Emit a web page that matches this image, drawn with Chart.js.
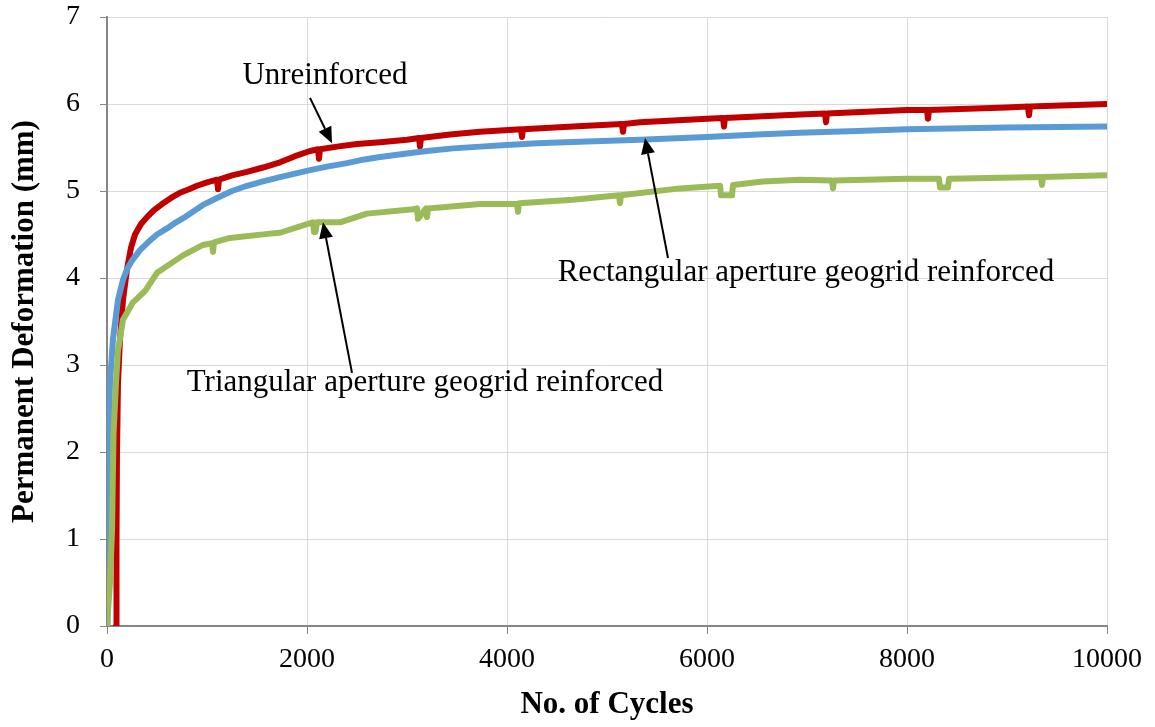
<!DOCTYPE html>
<html>
<head>
<meta charset="utf-8">
<script src="https://cdn.jsdelivr.net/npm/chart.js@4.4.1/dist/chart.umd.min.js"></script>
<style>
  html, body { margin: 0; padding: 0; background: #ffffff; }
  #wrap { width: 1155px; height: 727px; position: relative; }
</style>
</head>
<body>
<div id="wrap"><canvas id="c" width="1155" height="727"></canvas></div>
<script>
// ---- data ----
const xTicks = [0, 2000, 4000, 6000, 8000, 10000];
const yTicks = [0, 1, 2, 3, 4, 5, 6, 7];

const seriesNames = [
  "Unreinforced",
  "Rectangular aperture geogrid reinforced",
  "Triangular aperture geogrid reinforced"
];

const unreinforcedCycles = [90, 95, 100, 110, 130, 160, 200, 240, 280, 340, 400, 470, 550, 640, 730, 820, 900, 1000, 1100, 1110, 1120, 1250, 1400, 1560, 1730, 1880, 2030, 2110, 2120, 2130, 2300, 2500, 2730, 3000, 3120, 3130, 3140, 3430, 3730, 4140, 4150, 4160, 4660, 5150, 5160, 5170, 5330, 6000, 6160, 6170, 6180, 6930, 7180, 7190, 7200, 8000, 8200, 8210, 8220, 9000, 9210, 9220, 9230, 10000];
const unreinforcedDef = [0, 1.0, 2.0, 2.8, 3.3, 3.75, 4.1, 4.35, 4.5, 4.62, 4.7, 4.78, 4.85, 4.92, 4.98, 5.02, 5.06, 5.10, 5.13, 5.02, 5.13, 5.18, 5.22, 5.27, 5.33, 5.40, 5.46, 5.48, 5.37, 5.48, 5.51, 5.54, 5.56, 5.59, 5.61, 5.51, 5.61, 5.65, 5.68, 5.71, 5.62, 5.71, 5.74, 5.77, 5.68, 5.77, 5.79, 5.83, 5.84, 5.74, 5.84, 5.88, 5.89, 5.79, 5.89, 5.93, 5.93, 5.83, 5.93, 5.96, 5.97, 5.87, 5.97, 6.00];

const rectangularCycles = [0, 5, 12, 30, 60, 110, 160, 200, 250, 330, 410, 500, 600, 690, 780, 870, 960, 1100, 1250, 1400, 1560, 1730, 1880, 2030, 2200, 2400, 2560, 2730, 3000, 3200, 3460, 3730, 4000, 4300, 4800, 5330, 6000, 6500, 6930, 7500, 8000, 9000, 10000];
const rectangularDef = [0, 1.0, 2.0, 2.8, 3.3, 3.75, 3.98, 4.10, 4.2, 4.32, 4.41, 4.50, 4.57, 4.64, 4.70, 4.77, 4.84, 4.92, 5.00, 5.06, 5.11, 5.16, 5.20, 5.24, 5.28, 5.32, 5.36, 5.39, 5.43, 5.46, 5.49, 5.51, 5.53, 5.55, 5.57, 5.59, 5.62, 5.65, 5.67, 5.69, 5.71, 5.73, 5.74];

const triangularCycles = [0, 30, 50, 65, 90, 110, 160, 260, 380, 500, 760, 960, 1050, 1060, 1070, 1230, 1630, 1730, 2000, 2060, 2070, 2085, 2100, 2330, 2600, 3060, 3100, 3110, 3190, 3200, 3210, 3730, 4100, 4110, 4120, 4660, 5120, 5130, 5140, 5730, 6130, 6140, 6250, 6260, 6560, 6930, 7250, 7260, 7270, 8000, 8320, 8330, 8410, 8420, 9340, 9350, 9360, 10000];
const triangularDef = [0, 0.5, 1.1, 2.2, 2.8, 3.17, 3.52, 3.72, 3.85, 4.06, 4.26, 4.38, 4.40, 4.30, 4.41, 4.46, 4.51, 4.52, 4.62, 4.64, 4.53, 4.53, 4.64, 4.64, 4.74, 4.79, 4.80, 4.68, 4.80, 4.70, 4.80, 4.85, 4.85, 4.76, 4.86, 4.90, 4.95, 4.86, 4.95, 5.03, 5.06, 4.95, 4.95, 5.07, 5.11, 5.13, 5.12, 5.03, 5.12, 5.14, 5.14, 5.04, 5.04, 5.14, 5.16, 5.07, 5.16, 5.18];

// annotation texts with arrow anchors in data units (cycles, mm)
const labelTexts = ["Unreinforced", "Rectangular aperture geogrid reinforced", "Triangular aperture geogrid reinforced"];
const labelAt = [[2180, 6.32], [6990, 4.06], [3180, 2.79]];
const arrowFrom = [[2030, 6.07], [5610, 4.23], [2450, 2.91]];
const arrowTo = [[2250, 5.55], [5380, 5.61], [2160, 4.64]];

// ---- build ----
function pts(xs, ys) { return xs.map((x, i) => ({ x: x, y: ys[i] })); }

const FONT = "'Liberation Serif', 'Times New Roman', serif";
const AXIS_GRAY = '#868686';

const annotationPlugin = {
  id: 'annotations',
  afterDatasetsDraw(chart) {
    const ctx = chart.ctx;
    const xs = chart.scales.x, ys = chart.scales.y;
    ctx.save();
    ctx.fillStyle = '#000';
    ctx.strokeStyle = '#000';
    ctx.font = '31px ' + FONT;
    ctx.textAlign = 'center';
    ctx.textBaseline = 'middle';
    for (let i = 0; i < labelTexts.length; i++) {
      ctx.fillText(labelTexts[i], xs.getPixelForValue(labelAt[i][0]), ys.getPixelForValue(labelAt[i][1]));
      const x1 = xs.getPixelForValue(arrowFrom[i][0]), y1 = ys.getPixelForValue(arrowFrom[i][1]);
      const x2 = xs.getPixelForValue(arrowTo[i][0]), y2 = ys.getPixelForValue(arrowTo[i][1]);
      const ang = Math.atan2(y2 - y1, x2 - x1);
      const headLen = 16, headW = 7;
      const bx = x2 - headLen * Math.cos(ang), by = y2 - headLen * Math.sin(ang);
      ctx.lineWidth = 2;
      ctx.beginPath();
      ctx.moveTo(x1, y1);
      ctx.lineTo(bx, by);
      ctx.stroke();
      ctx.beginPath();
      ctx.moveTo(x2, y2);
      ctx.lineTo(bx + headW * Math.sin(ang), by - headW * Math.cos(ang));
      ctx.lineTo(bx - headW * Math.sin(ang), by + headW * Math.cos(ang));
      ctx.closePath();
      ctx.fill();
    }
    ctx.restore();
  }
};

const lineStyle = {
  borderWidth: 6,
  pointRadius: 0,
  pointHoverRadius: 0,
  tension: 0,
  fill: false,
  borderJoinStyle: 'round',
  borderCapStyle: 'round'
};

new Chart(document.getElementById('c'), {
  type: 'line',
  data: {
    datasets: [
      Object.assign({ label: seriesNames[0], data: pts(unreinforcedCycles, unreinforcedDef), borderColor: '#C00000', order: 3 }, lineStyle),
      Object.assign({ label: seriesNames[1], data: pts(rectangularCycles, rectangularDef), borderColor: '#5B9BD5', order: 2 }, lineStyle),
      Object.assign({ label: seriesNames[2], data: pts(triangularCycles, triangularDef), borderColor: '#9BBB59', order: 1 }, lineStyle)
    ]
  },
  options: {
    responsive: false,
    animation: false,
    events: [],
    layout: { padding: { left: 0, right: 48, top: 17, bottom: 0 } },
    plugins: {
      legend: { display: false },
      tooltip: { enabled: false }
    },
    scales: {
      x: {
        type: 'linear',
        min: 0, max: 10000,
        afterBuildTicks(scale) { scale.ticks = xTicks.map(v => ({ value: v })); },
        afterFit(scale) { scale.height = 101; scale.paddingLeft = 0; scale.paddingRight = 0; },
        grid: { color: '#d9d9d9', lineWidth: 1, tickLength: 8, tickColor: AXIS_GRAY, drawTicks: true },
        border: { color: AXIS_GRAY, width: 2 },
        ticks: { color: '#000', font: { family: FONT, size: 28 }, padding: 9, maxRotation: 0, autoSkip: false, callback: v => String(v) },
        title: { display: true, text: 'No. of Cycles', color: '#000', font: { family: FONT, size: 31, weight: 'bold' }, padding: { top: 0, bottom: 3 } }
      },
      y: {
        type: 'linear',
        min: 0, max: 7,
        afterBuildTicks(scale) { scale.ticks = yTicks.map(v => ({ value: v })); },
        afterFit(scale) { scale.width = 107; scale.paddingTop = 0; scale.paddingBottom = 0; },
        grid: { color: '#d9d9d9', lineWidth: 1, tickLength: 7, tickColor: AXIS_GRAY, drawTicks: true },
        border: { color: AXIS_GRAY, width: 2 },
        ticks: { color: '#000', font: { family: FONT, size: 28 }, padding: 20, callback: v => String(v) },
        title: { display: true, text: 'Permanent Deformation (mm)', color: '#000', font: { family: FONT, size: 31, weight: 'bold' }, padding: { top: 6, bottom: 0 } }
      }
    }
  },
  plugins: [annotationPlugin]
});
</script>
</body>
</html>
